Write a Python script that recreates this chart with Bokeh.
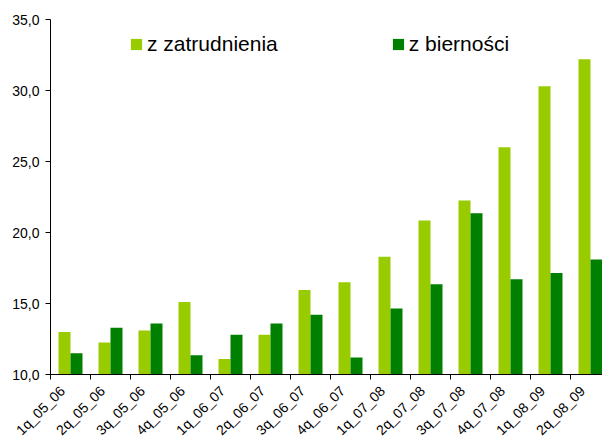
from bokeh.plotting import figure
from bokeh.models import FixedTicker, ColumnDataSource, Legend, LegendItem
from bokeh.embed import file_html
from bokeh.resources import INLINE
import math

categories = ["1q_05_06", "2q_05_06", "3q_05_06", "4q_05_06", "1q_06_07", "2q_06_07",
              "3q_06_07", "4q_06_07", "1q_07_08", "2q_07_08", "3q_07_08", "4q_07_08",
              "1q_08_09", "2q_08_09"]
z_zatrudnienia = [13.0, 12.25, 13.1, 15.1, 11.1, 12.8, 15.95, 16.5, 18.3, 20.85, 22.25, 26.0, 30.3, 32.2]
z_biernosci = [11.5, 13.3, 13.6, 11.35, 12.8, 13.6, 14.2, 11.2, 14.65, 16.35, 21.35, 16.7, 17.15, 18.1]
y_ticks = [10, 15, 20, 25, 30, 35]
y_labels = ["10,0", "15,0", "20,0", "25,0", "30,0", "35,0"]

n = len(categories)
centers = [i + 0.5 for i in range(n)]
label_pos = [c - 0.2 for c in centers]
bw = 0.3

FONT = "Liberation Sans"

p = figure(width=602, height=446, x_range=(0, 13.8), y_range=(10, 35),
           output_backend="svg", toolbar_location=None,
           min_border_left=50, min_border_right=0, min_border_top=19, min_border_bottom=72)
p.outline_line_color = None
p.xgrid.visible = False
p.ygrid.visible = False
p.background_fill_color = "white"
p.border_fill_color = "white"

src = ColumnDataSource(dict(x1=[c - bw / 2 for c in centers], x2=[c + bw / 2 for c in centers],
                            a=z_zatrudnienia, b=z_biernosci))
r1 = p.vbar(x="x1", top="a", bottom=10, width=bw, source=src, fill_color="#99CC00", line_color=None)
r2 = p.vbar(x="x2", top="b", bottom=10, width=bw, source=src, fill_color="#008000", line_color=None)

# x axis
xa = p.xaxis[0]
xa.ticker = FixedTicker(ticks=label_pos, minor_ticks=list(range(n + 1)))
xa.major_label_overrides = {c: lab for c, lab in zip(label_pos, categories)}
xa.major_tick_out = 0
xa.major_tick_in = 0
xa.minor_tick_out = 5
xa.minor_tick_in = 0
xa.minor_tick_line_color = "black"
xa.axis_line_color = "black"
xa.major_label_orientation = math.pi / 4
xa.major_label_text_font = FONT
xa.major_label_text_font_size = "14px"
xa.major_label_text_color = "black"
xa.major_label_standoff = 9

# y axis
ya = p.yaxis[0]
ya.ticker = FixedTicker(ticks=y_ticks)
ya.major_label_overrides = {t: lab for t, lab in zip(y_ticks, y_labels)}
ya.minor_tick_line_color = None
ya.major_tick_out = 5
ya.major_tick_in = 0
ya.major_tick_line_color = "black"
ya.axis_line_color = "black"
ya.major_label_text_font = FONT
ya.major_label_text_font_size = "14px"
ya.major_label_text_color = "black"
ya.major_label_standoff = 6

legend = Legend(items=[LegendItem(label="z zatrudnienia", renderers=[r1]),
                       LegendItem(label="z bierności", renderers=[r2])],
                orientation="horizontal", location=(79, 318))
legend.border_line_color = None
legend.background_fill_alpha = 0
legend.padding = 0
legend.margin = 0
legend.spacing = 113
legend.glyph_width = 14
legend.glyph_height = 14
legend.label_standoff = 4
legend.label_text_font = FONT
legend.label_text_font_size = "21px"
legend.label_text_color = "black"
p.add_layout(legend, "center")

open("out.html", "w").write(file_html(p, INLINE))
